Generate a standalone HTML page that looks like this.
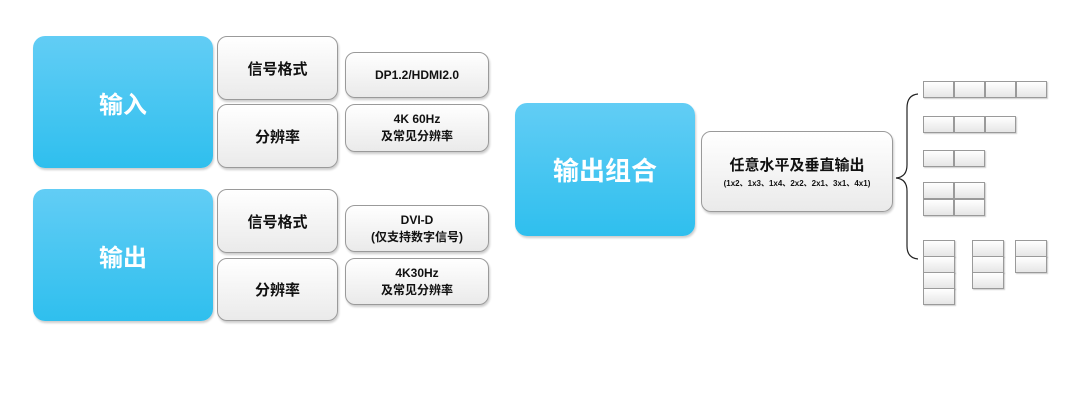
<!DOCTYPE html>
<html><head><meta charset="utf-8"><style>
body{margin:0;width:1080px;height:400px;background:#fff;position:relative;overflow:hidden;font-family:"Liberation Sans","Noto Sans CJK SC",sans-serif;font-weight:bold}
.a{position:absolute;box-sizing:border-box;display:flex;flex-direction:column;align-items:center;justify-content:center;text-align:center}
.b{background:linear-gradient(#62cdf5,#2fbfee);border-radius:12px;color:#fff;font-size:24px;box-shadow:1px 2px 2px rgba(0,0,0,.2)}
.g{background:linear-gradient(#fff,#eaeaea);border:1px solid #9a9a9a;border-radius:10px;color:#111;box-shadow:1px 2px 2px rgba(0,0,0,.2)}
.l{font-size:15px}.v{font-size:12px;line-height:17px}
.c{position:absolute;width:31px;height:17px;box-sizing:border-box;border:1px solid #9a9a9a;background:linear-gradient(#fff,#e6e6e6);box-shadow:1px 1px 1px rgba(0,0,0,.2)}
</style></head><body>
<div class="a b" style="left:33px;top:36px;width:180px;height:132px">输入</div>
<div class="a b" style="left:33px;top:189px;width:180px;height:132px">输出</div>
<div class="a g l" style="left:217px;top:36px;width:121px;height:64px">信号格式</div>
<div class="a g l" style="left:217px;top:104px;width:121px;height:64px">分辨率</div>
<div class="a g l" style="left:217px;top:189px;width:121px;height:64px">信号格式</div>
<div class="a g l" style="left:217px;top:258px;width:121px;height:63px">分辨率</div>
<div class="a g v" style="left:345px;top:52px;width:144px;height:46px">DP1.2/HDMI2.0</div>
<div class="a g v" style="left:345px;top:104px;width:144px;height:48px"><div>4K 60Hz</div><div>及常见分辨率</div></div>
<div class="a g v" style="left:345px;top:205px;width:144px;height:47px"><div>DVI-D</div><div>(仅支持数字信号)</div></div>
<div class="a g v" style="left:345px;top:258px;width:144px;height:47px"><div>4K30Hz</div><div>及常见分辨率</div></div>
<div class="a b" style="left:515px;top:103px;width:180px;height:133px;font-size:26px">输出组合</div>
<div class="a g" style="left:701px;top:131px;width:192px;height:81px"><div style="font-size:15px">任意水平及垂直输出</div><div style="font-size:8px;margin-top:3px">(1x2、1x3、1x4、2x2、2x1、3x1、4x1)</div></div>
<svg style="position:absolute;left:0;top:0" width="1080" height="400"><path d="M918,94 Q907,95 907,108 L907,165 Q907,177 896,178 Q907,179 907,191 L907,246 Q907,258 918,259" fill="none" stroke="#222" stroke-width="1.2"/></svg>
<div class="c" style="left:923px;top:81px"></div><div class="c" style="left:954px;top:81px"></div><div class="c" style="left:985px;top:81px"></div><div class="c" style="left:1016px;top:81px"></div>
<div class="c" style="left:923px;top:116px"></div><div class="c" style="left:954px;top:116px"></div><div class="c" style="left:985px;top:116px"></div>
<div class="c" style="left:923px;top:150px"></div><div class="c" style="left:954px;top:150px"></div>
<div class="c" style="left:923px;top:182px"></div><div class="c" style="left:954px;top:182px"></div><div class="c" style="left:923px;top:199px"></div><div class="c" style="left:954px;top:199px"></div>
<div class="c" style="left:923px;top:240px;width:32px"></div><div class="c" style="left:923px;top:256px;width:32px"></div><div class="c" style="left:923px;top:272px;width:32px"></div><div class="c" style="left:923px;top:288px;width:32px"></div>
<div class="c" style="left:972px;top:240px;width:32px"></div><div class="c" style="left:972px;top:256px;width:32px"></div><div class="c" style="left:972px;top:272px;width:32px"></div>
<div class="c" style="left:1015px;top:240px;width:32px"></div><div class="c" style="left:1015px;top:256px;width:32px"></div>
</body></html>
